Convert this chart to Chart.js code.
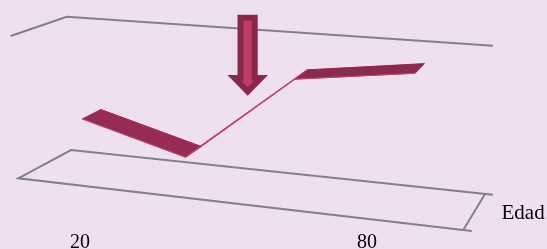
<!DOCTYPE html>
<html>
<head>
<meta charset="utf-8">
<script src="https://cdn.jsdelivr.net/npm/chart.js@4.4.1/dist/chart.umd.min.js"></script>
<style>
  html, body { margin: 0; padding: 0; background: #EFE0F0; }
  #wrap { width: 547px; height: 249px; position: relative; }
  canvas { display: block; }
</style>
</head>
<body>
<div id="wrap"><canvas id="c" width="547" height="249"></canvas></div>
<script>
// ---- data ----
const categories = ['20', '40', '60', '80'];
const values = [40.0, 20.6, 80.6, 90.9];
const tickLabels = ['20', '', '', '80'];
const axisTitle = 'Edad';
const valueMin = 0;
const valueMax = 100;

// ---- oblique/perspective projection of the 3D box (layout) ----
const FL = [18.3, 178.3], BL = [71, 150], BR = [485, 194], FR = [463.3, 230];
const VFL = [-7.6, -142.3], VBL = [-4.3, -133.3], VBR = [0, -148.8], VFR = [1, -158.8];
function bil(a, b, c, d, u, w) {
  const lx = a[0] + w * (b[0] - a[0]), ly = a[1] + w * (b[1] - a[1]);
  const rx = d[0] + w * (c[0] - d[0]), ry = d[1] + w * (c[1] - d[1]);
  return [lx + u * (rx - lx), ly + u * (ry - ly)];
}
function proj(u, w, h) {
  const f = bil(FL, BL, BR, FR, u, w);
  const v = bil(VFL, VBL, VBR, VFR, u, w);
  return { x: f[0] + h * v[0], y: f[1] + h * v[1] };
}
// category band centre, with perspective foreshortening
function catU(i) {
  const u = (i + 0.5) / categories.length;
  return 0.007 + 0.852 * u + 0.16 * u * u;
}
function norm(v) { return (v - valueMin) / (valueMax - valueMin); }
function ext(a, b, t) { return { x: a.x + t * (b.x - a.x), y: a.y + t * (b.y - a.y) }; }

const W0 = 0.30, W1 = 0.67;
const front = categories.map((c, i) => proj(catU(i), W0, norm(values[i])));
const back = categories.map((c, i) => proj(catU(i), W1, norm(values[i])));

const gray = '#828282';
const p000 = proj(0, 0, 0), p010 = proj(0, 1, 0), p110 = proj(1, 1, 0), p100 = proj(1, 0, 0);
const p001 = proj(0, 0, 1), p011 = proj(0, 1, 1), p111 = proj(1, 1, 1);
const OV = 1.019;

const datasets = [];
// box outline
datasets.push({ data: [p001, p011, ext(p011, p111, OV)], borderColor: gray, borderWidth: 2, order: 10 });
datasets.push({ data: [ext(p010, p110, OV), p010, p000, ext(p000, p100, OV)], borderColor: gray, borderWidth: 2, order: 10 });
datasets.push({ data: [p110, p100], borderColor: gray, borderWidth: 2, order: 10 });

// ribbon faces
const segColors = ['#962B53', '#AE325F', '#8B2A4D'];
for (let i = 0; i < categories.length - 1; i++) {
  datasets.push({
    data: [front[i], front[i + 1], back[i + 1], back[i], front[i]],
    fill: 'shape',
    backgroundColor: segColors[i],
    borderColor: segColors[i],
    borderWidth: i === 1 ? 1.4 : 1,
    order: 5
  });
}
// front edge highlight
datasets.push({ data: front, borderColor: 'rgba(205,72,125,0.85)', borderWidth: 1, order: 1 });

datasets.forEach(d => {
  d.showLine = true; d.pointRadius = 0; d.pointHoverRadius = 0;
  if (d.fill === undefined) d.fill = false;
  d.tension = 0; d.borderJoinStyle = 'miter';
});

const overlay = {
  id: 'overlay',
  afterDatasetsDraw(chart) {
    const ctx = chart.ctx;
    // callout arrow
    ctx.save();
    ctx.beginPath();
    ctx.moveTo(240.5, 17.7);
    ctx.lineTo(254.7, 17.7);
    ctx.lineTo(254.7, 78);
    ctx.lineTo(260.9, 78);
    ctx.lineTo(247.7, 91.5);
    ctx.lineTo(234.5, 78);
    ctx.lineTo(240.5, 78);
    ctx.closePath();
    ctx.fillStyle = '#BE3A67';
    ctx.fill();
    ctx.lineWidth = 6;
    ctx.lineJoin = 'miter';
    ctx.strokeStyle = '#8A2849';
    ctx.stroke();
    ctx.restore();

    // category labels and axis title
    ctx.save();
    ctx.fillStyle = '#000';
    ctx.font = '20px "Liberation Serif", "Times New Roman", serif';
    ctx.textAlign = 'center';
    ctx.textBaseline = 'alphabetic';
    const lx0 = 80, lx1 = 367;
    tickLabels.forEach((t, i) => {
      if (!t) return;
      const x = lx0 + i * (lx1 - lx0) / (categories.length - 1);
      ctx.fillText(t, x, 247.5);
    });
    ctx.font = '21px "Liberation Serif", "Times New Roman", serif';
    ctx.textAlign = 'left';
    ctx.fillText(axisTitle, 501.5, 219.3);
    ctx.restore();
  }
};

new Chart(document.getElementById('c'), {
  type: 'scatter',
  data: { datasets },
  options: {
    responsive: false,
    animation: false,
    devicePixelRatio: 1,
    layout: { padding: 0 },
    plugins: { legend: { display: false }, tooltip: { enabled: false }, title: { display: false } },
    scales: {
      x: { type: 'linear', min: 0, max: 547, display: false },
      y: { type: 'linear', min: 0, max: 249, reverse: true, display: false }
    }
  },
  plugins: [overlay]
});
</script>
</body>
</html>
